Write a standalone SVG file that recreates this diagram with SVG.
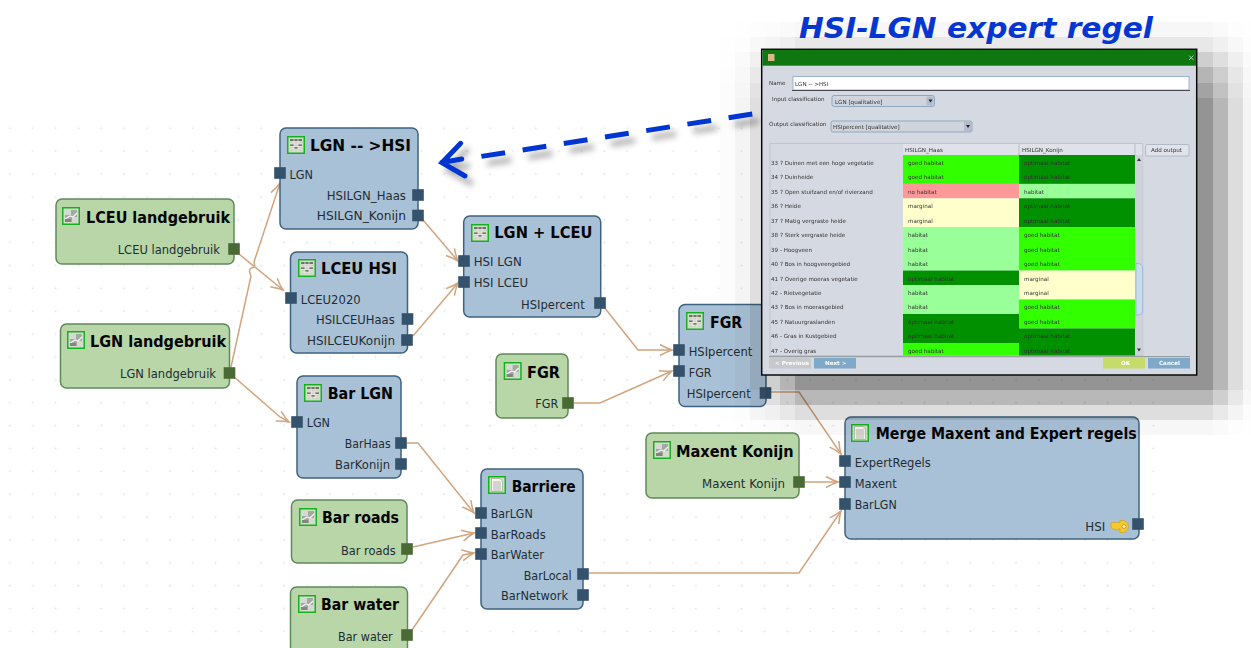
<svg xmlns="http://www.w3.org/2000/svg" xmlns:xlink="http://www.w3.org/1999/xlink" width="1251" height="648" viewBox="0 0 1251 648">
<style>
text{font-family:"DejaVu Sans","Liberation Sans",sans-serif}
.nb{fill:#a9c1d7;stroke:#3f637f;stroke-width:1.5}
.ng{fill:#b8d6a8;stroke:#5f8a58;stroke-width:1.5}
.pb{fill:#34526b}
.pg{fill:#4a6a35}
.t{font-weight:bold;font-size:16px;fill:#050505}
.l{font-size:13px;fill:#1f2d33}
.c{fill:none;stroke:#d1a57d;stroke-width:1.5;marker-end:url(#chev)}
.d{font-size:5.6px;fill:#333}
.w{font-size:5.6px;fill:#fff;font-weight:bold}
.g{fill:#33ff00}.o{fill:#009000}.h{fill:#99ff99}.m{fill:#ffffcc}.n{fill:#ff9999}
</style>
<defs>
<pattern id="dots" patternUnits="userSpaceOnUse" x="8.3" y="12.45" width="22.87" height="22.87">
<path d="M1.5 .5V2.5M.5 1.5H2.5" stroke="#dce7f2" stroke-width="1"/>
</pattern>
<marker id="chev" markerUnits="userSpaceOnUse" viewBox="-13 -7 15 14" refX="0" refY="0" markerWidth="15" markerHeight="14" orient="auto">
<path d="M-12-5.5Q-5-1.5 0 0Q-5 1.5-12 5.5" fill="none" stroke="#d1a57d" stroke-width="1.5"/>
</marker>
<linearGradient id="shx" gradientUnits="userSpaceOnUse" x1="720" y1="0" x2="1251" y2="0">
<stop offset="0" stop-color="#000" stop-opacity=".03"/><stop offset=".0282" stop-color="#000" stop-opacity=".03"/>
<stop offset=".0282" stop-color="#000" stop-opacity=".1"/><stop offset=".0565" stop-color="#000" stop-opacity=".1"/>
<stop offset=".0565" stop-color="#000" stop-opacity=".3"/><stop offset=".0847" stop-color="#000" stop-opacity=".3"/>
<stop offset=".0847" stop-color="#000" stop-opacity=".45"/><stop offset=".113" stop-color="#000" stop-opacity=".45"/>
<stop offset=".113" stop-color="#000" stop-opacity=".7"/><stop offset=".1412" stop-color="#000" stop-opacity=".7"/>
<stop offset=".1412" stop-color="#000" stop-opacity="1"/><stop offset=".9284" stop-color="#000" stop-opacity="1"/>
<stop offset=".9284" stop-color="#000" stop-opacity=".67"/><stop offset=".9567" stop-color="#000" stop-opacity=".67"/>
<stop offset=".9567" stop-color="#000" stop-opacity=".32"/><stop offset=".9849" stop-color="#000" stop-opacity=".32"/>
<stop offset=".9849" stop-color="#000" stop-opacity=".1"/><stop offset="1" stop-color="#000" stop-opacity=".1"/>
</linearGradient>
<filter id="sh" x="-10%" y="-40%" width="120%" height="200%"><feDropShadow dx="6" dy="7" stdDeviation="3" flood-color="#000" flood-opacity=".36"/></filter>
<filter id="soft" x="-2%" y="-2%" width="104%" height="104%"><feGaussianBlur stdDeviation=".28"/></filter>
<filter id="isoft" x="-5%" y="-5%" width="110%" height="110%"><feGaussianBlur stdDeviation=".35"/></filter>
<g id="fr"><rect x=".75" y=".75" width="16.5" height="16.5" fill="#cfe0c8" stroke="#18b020" stroke-width="1.5"/></g>
<g id="itable"><use href="#fr"/><g filter="url(#isoft)"><path d="M3 3h12v12H3z" fill="#cfd0c8"/><path d="M3 3h12v2.500H3zM3 8h4v2H3zM11 8h4v2h-4zM7 11h4v2H7z" fill="#6e746a"/><path d="M3 5.500H15M3 8H15M3 10.500H15M3 13H15M7 3V15M11 3V15" stroke="#f0f0ea" stroke-width=".7"/></g></g>
<g id="iraster"><use href="#fr"/><g filter="url(#isoft)"><path d="M3 3h12v12H3z" fill="#a4a8a2"/><path d="M3 3h6v5H3zM10 10h5v5h-5z" fill="#d6d8d4"/><path d="M3 12L8 9L11 10L15 6" stroke="#f4f4f4" stroke-width="1.300" fill="none"/><path d="M3 15h6v-3H3z" fill="#82867f"/></g></g>
<g id="idoc"><use href="#fr"/><path d="M3.500 2.500H12L14.500 5V15.500H3.500z" fill="#f6f6ee" stroke="#8f9a8c" stroke-width=".6"/><path d="M5 6H13M5 8H13M5 10H13M5 12H13M5 14H13" stroke="#a8aca0" stroke-width=".9"/></g>
<rect id="p" x="-5.800" y="-5.800" width="11.600" height="11.600"/>
</defs>
<rect width="1251" height="648" fill="#fff"/>
<rect y="116" width="1160" height="532" fill="url(#dots)"/>

<g id="connectors">
<path class="c" d="M239 254L283 290"/>
<path class="c" d="M231 367L251 276Q248 270 251 268Q256 268 254 262L280 183"/>
<path class="c" d="M233 376L280 417L289 422"/>
<path class="c" d="M423 220L458 261"/>
<path class="c" d="M413 336L458 283"/>
<path class="c" d="M604 307L638 350H672"/>
<path class="c" d="M574 403H600L672 371"/>
<path class="c" d="M771 392H799L841 454"/>
<path class="c" d="M805 482H838"/>
<path class="c" d="M589 573H799L841 511"/>
<path class="c" d="M407 443H418L474 513"/>
<path class="c" d="M413 547L474 533"/>
<path class="c" d="M412 630L463 555L474 553"/>
</g>

<g id="node-lgn-hsi"><rect class="nb" x="280" y="128" width="138" height="101" rx="6"/><use href="#itable" x="287" y="136"/>
<text class="t" x="310" y="151" textLength="101" lengthAdjust="spacingAndGlyphs">LGN -- &gt;HSI</text>
<text class="l" x="289.500" y="179" textLength="23.500" lengthAdjust="spacingAndGlyphs">LGN</text>
<text class="l" x="326.700" y="200" textLength="79.300" lengthAdjust="spacingAndGlyphs">HSILGN_Haas</text>
<text class="l" x="316.700" y="220" textLength="89.300" lengthAdjust="spacingAndGlyphs">HSILGN_Konijn</text>
<use class="pb" href="#p" x="280" y="173"/><use class="pb" href="#p" x="418" y="195"/><use class="pb" href="#p" x="418" y="215.500"/></g>

<g id="node-lceu-landgebruik"><rect class="ng" x="56" y="199" width="178" height="65" rx="6"/><use href="#iraster" x="62" y="207"/>
<text class="t" x="86" y="223" textLength="144" lengthAdjust="spacingAndGlyphs">LCEU landgebruik</text>
<text class="l" x="117.700" y="253.700" textLength="102.300" lengthAdjust="spacingAndGlyphs">LCEU landgebruik</text>
<use class="pg" href="#p" x="234" y="249"/></g>

<g id="node-lgn-landgebruik"><rect class="ng" x="60.500" y="324" width="169" height="64" rx="6"/><use href="#iraster" x="67" y="331"/>
<text class="t" x="90" y="347" textLength="136" lengthAdjust="spacingAndGlyphs">LGN landgebruik</text>
<text class="l" x="120" y="377.700" textLength="96" lengthAdjust="spacingAndGlyphs">LGN landgebruik</text>
<use class="pg" href="#p" x="229.500" y="373"/></g>

<g id="node-lceu-hsi"><rect class="nb" x="290.500" y="252" width="117" height="101" rx="6"/><use href="#itable" x="298" y="259"/>
<text class="t" x="321" y="274" textLength="76" lengthAdjust="spacingAndGlyphs">LCEU HSI</text>
<text class="l" x="300.700" y="303.700" textLength="60" lengthAdjust="spacingAndGlyphs">LCEU2020</text>
<text class="l" x="316" y="324" textLength="78.700" lengthAdjust="spacingAndGlyphs">HSILCEUHaas</text>
<text class="l" x="307" y="345" textLength="88" lengthAdjust="spacingAndGlyphs">HSILCEUKonijn</text>
<use class="pb" href="#p" x="291" y="298"/><use class="pb" href="#p" x="407.500" y="319"/><use class="pb" href="#p" x="407" y="340"/></g>

<g id="node-bar-lgn"><rect class="nb" x="297" y="376" width="104" height="102" rx="6"/><use href="#itable" x="304" y="384"/>
<text class="t" x="327.700" y="399" textLength="65.300" lengthAdjust="spacingAndGlyphs">Bar LGN</text>
<text class="l" x="306.700" y="427" textLength="23.300" lengthAdjust="spacingAndGlyphs">LGN</text>
<text class="l" x="344.700" y="448" textLength="46" lengthAdjust="spacingAndGlyphs">BarHaas</text>
<text class="l" x="335" y="469" textLength="55" lengthAdjust="spacingAndGlyphs">BarKonijn</text>
<use class="pb" href="#p" x="297" y="422"/><use class="pb" href="#p" x="401" y="443"/><use class="pb" href="#p" x="401" y="464"/></g>

<g id="node-bar-roads"><rect class="ng" x="291.500" y="500" width="115.500" height="63" rx="6"/><use href="#iraster" x="299" y="508"/>
<text class="t" x="322" y="522.700" textLength="77" lengthAdjust="spacingAndGlyphs">Bar roads</text>
<text class="l" x="341" y="554.700" textLength="54.700" lengthAdjust="spacingAndGlyphs">Bar roads</text>
<use class="pg" href="#p" x="407" y="549"/></g>

<g id="node-bar-water"><rect class="ng" x="290.500" y="587" width="117" height="66" rx="6"/><use href="#iraster" x="298" y="595"/>
<text class="t" x="321" y="609.700" textLength="78" lengthAdjust="spacingAndGlyphs">Bar water</text>
<text class="l" x="338" y="640.700" textLength="54.700" lengthAdjust="spacingAndGlyphs">Bar water</text>
<use class="pg" href="#p" x="407" y="635"/></g>

<g id="node-barriere"><rect class="nb" x="481" y="469" width="102" height="140" rx="6"/><use href="#idoc" x="488" y="476"/>
<text class="t" x="511.700" y="492" textLength="64" lengthAdjust="spacingAndGlyphs">Barriere</text>
<text class="l" x="490.700" y="518" textLength="42" lengthAdjust="spacingAndGlyphs">BarLGN</text>
<text class="l" x="490.700" y="539" textLength="55" lengthAdjust="spacingAndGlyphs">BarRoads</text>
<text class="l" x="490.700" y="559" textLength="53.300" lengthAdjust="spacingAndGlyphs">BarWater</text>
<text class="l" x="523.700" y="580" textLength="48" lengthAdjust="spacingAndGlyphs">BarLocal</text>
<text class="l" x="501" y="600" textLength="67" lengthAdjust="spacingAndGlyphs">BarNetwork</text>
<use class="pb" href="#p" x="481" y="513"/><use class="pb" href="#p" x="481" y="533"/><use class="pb" href="#p" x="481" y="554"/><use class="pb" href="#p" x="583" y="574"/><use class="pb" href="#p" x="583" y="595"/></g>

<g id="node-lgn-lceu"><rect class="nb" x="463.700" y="216" width="137" height="101" rx="6"/><use href="#itable" x="471" y="224"/>
<text class="t" x="494.300" y="238" textLength="98" lengthAdjust="spacingAndGlyphs">LGN + LCEU</text>
<text class="l" x="473.700" y="266" textLength="48" lengthAdjust="spacingAndGlyphs">HSI LGN</text>
<text class="l" x="473.700" y="287.300" textLength="54.300" lengthAdjust="spacingAndGlyphs">HSI LCEU</text>
<text class="l" x="521" y="308.700" textLength="63.700" lengthAdjust="spacingAndGlyphs">HSIpercent</text>
<use class="pb" href="#p" x="464" y="261"/><use class="pb" href="#p" x="464" y="282"/><use class="pb" href="#p" x="600" y="303"/></g>

<g id="node-fgr-input"><rect class="ng" x="496" y="354" width="72" height="64" rx="6"/><use href="#iraster" x="503.700" y="362"/>
<text class="t" x="527" y="378" textLength="33" lengthAdjust="spacingAndGlyphs">FGR</text>
<text class="l" x="535.300" y="408" textLength="23" lengthAdjust="spacingAndGlyphs">FGR</text>
<use class="pg" href="#p" x="568" y="403"/></g>

<g id="node-fgr"><rect class="nb" x="679" y="304.500" width="87" height="102" rx="6"/><use href="#itable" x="686" y="312"/>
<text class="t" x="710" y="327.700" textLength="32.300" lengthAdjust="spacingAndGlyphs">FGR</text>
<text class="l" x="688.700" y="355.700" textLength="63.600" lengthAdjust="spacingAndGlyphs">HSIpercent</text>
<text class="l" x="688.700" y="376.700" textLength="23" lengthAdjust="spacingAndGlyphs">FGR</text>
<text class="l" x="686.700" y="397.700" textLength="64" lengthAdjust="spacingAndGlyphs">HSIpercent</text>
<use class="pb" href="#p" x="679" y="350"/><use class="pb" href="#p" x="679" y="371"/><use class="pb" href="#p" x="765.500" y="393"/></g>

<g id="node-maxent"><rect class="ng" x="646" y="433" width="153" height="65" rx="6"/><use href="#iraster" x="653" y="441"/>
<text class="t" x="676" y="457" textLength="117.700" lengthAdjust="spacingAndGlyphs">Maxent Konijn</text>
<text class="l" x="702" y="488" textLength="83" lengthAdjust="spacingAndGlyphs">Maxent Konijn</text>
<use class="pg" href="#p" x="799" y="482"/></g>

<g id="node-merge"><rect class="nb" x="845" y="417" width="294" height="122" rx="6"/><use href="#idoc" x="851" y="424"/>
<text class="t" x="875.700" y="439" textLength="261" lengthAdjust="spacingAndGlyphs">Merge Maxent and Expert regels</text>
<text class="l" x="854.700" y="466.700" textLength="76" lengthAdjust="spacingAndGlyphs">ExpertRegels</text>
<text class="l" x="854.700" y="487.700" textLength="42" lengthAdjust="spacingAndGlyphs">Maxent</text>
<text class="l" x="854.700" y="509.300" textLength="42" lengthAdjust="spacingAndGlyphs">BarLGN</text>
<text class="l" x="1085.300" y="530.700" textLength="20" lengthAdjust="spacingAndGlyphs">HSI</text>
<path d="M1111 522.500H1120V520.500Q1128 519.500 1128.500 526.500Q1128 533.500 1120 532.500V529H1118L1117 530.500L1115 529L1113 529.500L1111 527z" fill="#f5c92e" stroke="#c89a18" stroke-width=".6"/><circle cx="1124" cy="526.500" r="2" fill="#fff2b0" stroke="#b88a10" stroke-width=".7"/>
<use class="pb" href="#p" x="845" y="461"/><use class="pb" href="#p" x="845" y="482"/><use class="pb" href="#p" x="845" y="504"/><use class="pb" href="#p" x="1138" y="524"/></g>

<g id="dialog-shadow" fill="url(#shx)">
<rect x="720" y="22" width="531" height="15" opacity=".03"/>
<rect x="720" y="37" width="531" height="15" opacity=".09"/>
<rect x="720" y="52" width="531" height="15" opacity=".19"/>
<rect x="720" y="67" width="531" height="16" opacity=".29"/>
<rect x="720" y="83" width="531" height="15" opacity=".36"/>
<rect x="720" y="98" width="531" height="292" opacity=".42"/>
<rect x="720" y="390" width="531" height="15" opacity=".28"/>
<rect x="720" y="405" width="531" height="15" opacity=".13"/>
<rect x="720" y="420" width="531" height="15" opacity=".03"/>
</g>

<g id="expert-arrow" filter="url(#sh)" fill="none" stroke="#0536d2" stroke-linecap="butt">
<path d="M752.300 114L479.300 156.700" stroke-width="5" stroke-dasharray="24 17.700"/>
<path d="M460.700 143.300L442 162.700L465 176M442 162.500L461.700 159" stroke-width="5" stroke-linecap="round" stroke-linejoin="miter"/>
</g>

<text id="title" x="799" y="38" font-size="28" font-weight="bold" font-style="italic" fill="#0536d2" textLength="354" lengthAdjust="spacingAndGlyphs">HSI-LGN expert regel</text>

<g id="dialog">
<rect x="761.700" y="49.300" width="435" height="325.700" fill="#d5d9e2" stroke="#0a0a0a" stroke-width="1.500"/>
<rect x="762.500" y="50" width="433.500" height="15.700" fill="#0f770f"/>
<rect x="768" y="54" width="6.500" height="7" fill="#d9b98c"/>
<path d="M1189 55.500l4.500 4.500M1193.500 55.500l-4.500 4.500" stroke="#a9cfa9" stroke-width="1"/>
<g filter="url(#soft)">
<text class="d" x="769" y="85">Name</text>
<rect x="793" y="76.500" width="396" height="13.500" fill="#fff" stroke="#9db4cc"/>
<path d="M792 90.500H1190" stroke="#44484e"/>
<text class="d" x="795" y="85.500">LGN -- &gt;HSI</text>
<text class="d" x="772" y="100.700">Input classification</text>
<rect x="832" y="95.500" width="102.500" height="11" rx="2" fill="#d0d4dc" stroke="#8fa8c2"/>
<rect x="926.500" y="96.500" width="7" height="9" fill="#b4bccb"/><path d="M928.500 99.500h4l-2 3z" fill="#222"/>
<text class="d" x="835" y="103.500">LGN [qualitative]</text>
<text class="d" x="769" y="126">Output classification</text>
<rect x="831" y="121" width="141" height="11" rx="2" fill="#d0d4dc" stroke="#8fa8c2"/>
<rect x="964" y="122" width="7" height="9" fill="#b4bccb"/><path d="M966 125h4l-2 3z" fill="#222"/>
<text class="d" x="833" y="129">HSIpercent [qualitative]</text>
<rect x="770" y="143.500" width="372.700" height="212" fill="#d5d9e2" stroke="#c0c5cf"/>
<rect x="903" y="144" width="239" height="11.500" fill="#dfe2e8"/>
<path d="M1019 144V155M1135 144V155" stroke="#a8acb4" stroke-width=".7"/>
<text class="d" x="905" y="151.700">HSILGN_Haas</text>
<text class="d" x="1022" y="151.700">HSILGN_Konijn</text>
<rect x="1145.700" y="144.500" width="43.300" height="11.500" rx="1" fill="#e0e3ea" stroke="#b4b8c2"/>
<text class="d" x="1151" y="152.300">Add output</text>

<g id="rows">
<rect class="g" x="903" y="155" width="116" height="28.900"/><rect class="o" x="1019" y="155" width="116" height="28.900"/>
<rect class="n" x="903" y="183.900" width="116" height="14.450"/><rect class="h" x="1019" y="183.900" width="116" height="14.450"/>
<rect class="m" x="903" y="198.300" width="116" height="28.900"/><rect class="o" x="1019" y="198.300" width="116" height="28.900"/>
<rect class="h" x="903" y="227.200" width="116" height="43.400"/><rect class="g" x="1019" y="227.200" width="116" height="43.400"/>
<rect class="o" x="903" y="270.600" width="116" height="14.400"/><rect class="m" x="1019" y="270.600" width="116" height="28.900"/>
<rect class="h" x="903" y="285" width="116" height="29"/><rect class="g" x="1019" y="299.500" width="116" height="29"/>
<rect class="o" x="903" y="314" width="116" height="29"/><rect class="o" x="1019" y="328.500" width="116" height="27"/>
<rect class="g" x="903" y="343" width="116" height="12.500"/>
<text class="d" x="771" y="165">33 ? Duinen met een hoge vegetatie</text><text class="d" x="908" y="165">goed habitat</text><text class="d" x="1024" y="165">optimaal habitat</text>
<text class="d" x="771" y="179.400">34 ? Duinheide</text><text class="d" x="908" y="179.400">goed habitat</text><text class="d" x="1024" y="179.400">optimaal habitat</text>
<text class="d" x="771" y="193.900">35 ? Open stuifzand en/of rivierzand</text><text class="d" x="908" y="193.900">no habitat</text><text class="d" x="1024" y="193.900">habitat</text>
<text class="d" x="771" y="208.300">36 ? Heide</text><text class="d" x="908" y="208.300">marginal</text><text class="d" x="1024" y="208.300">optimaal habitat</text>
<text class="d" x="771" y="222.800">37 ? Matig vergraste heide</text><text class="d" x="908" y="222.800">marginal</text><text class="d" x="1024" y="222.800">optimaal habitat</text>
<text class="d" x="771" y="237.200">38 ? Sterk vergraste heide</text><text class="d" x="908" y="237.200">habitat</text><text class="d" x="1024" y="237.200">goed habitat</text>
<text class="d" x="771" y="251.600">39 - Hoogveen</text><text class="d" x="908" y="251.600">habitat</text><text class="d" x="1024" y="251.600">goed habitat</text>
<text class="d" x="771" y="266.100">40 ? Bos in hoogveengebied</text><text class="d" x="908" y="266.100">habitat</text><text class="d" x="1024" y="266.100">goed habitat</text>
<text class="d" x="771" y="280.500">41 ? Overige moeras vegetatie</text><text class="d" x="908" y="280.500">optimaal habitat</text><text class="d" x="1024" y="280.500">marginal</text>
<text class="d" x="771" y="295">42 - Rietvegetatie</text><text class="d" x="908" y="295">habitat</text><text class="d" x="1024" y="295">marginal</text>
<text class="d" x="771" y="309.400">43 ? Bos in moerasgebied</text><text class="d" x="908" y="309.400">habitat</text><text class="d" x="1024" y="309.400">goed habitat</text>
<text class="d" x="771" y="323.900">45 ? Natuurgraslanden</text><text class="d" x="908" y="323.900">optimaal habitat</text><text class="d" x="1024" y="323.900">goed habitat</text>
<text class="d" x="771" y="338.300">46 - Gras in Kustgebied</text><text class="d" x="908" y="338.300">optimaal habitat</text><text class="d" x="1024" y="338.300">optimaal habitat</text>
<text class="d" x="771" y="352.800">47 - Overig gras</text><text class="d" x="908" y="352.800">goed habitat</text><text class="d" x="1024" y="352.800">optimaal habitat</text>
</g>
<rect x="1135" y="155" width="7.700" height="200.500" fill="#ced2da"/>
<path d="M1136 263.500H1138Q1142.700 264 1142.700 269V310Q1142.700 315 1138 315H1136z" fill="#c8dcec" stroke="#8fb0cc" stroke-width=".7"/>
<path d="M1137 161l2-3 2 3zM1137 348.500l2 3 2-3z" fill="#333"/>
<path d="M769 356.700H1190" stroke="#8c9096" stroke-width="1"/>
<rect x="769" y="358" width="42" height="10.500" fill="#c6c8cc"/><text class="w" x="775" y="365.200">&lt; Previous</text>
<rect x="814" y="358" width="42" height="10.500" fill="#7fa9c9"/><text class="w" x="825" y="365.200">Next &gt;</text>
<rect x="1103" y="358" width="42" height="10.500" fill="#c6dc6a"/><text class="w" x="1121" y="365.200">OK</text>
<rect x="1148" y="358" width="42" height="10.500" fill="#7fa9c9"/><text class="w" x="1159" y="365.200">Cancel</text>
</g>
</g>
</svg>
